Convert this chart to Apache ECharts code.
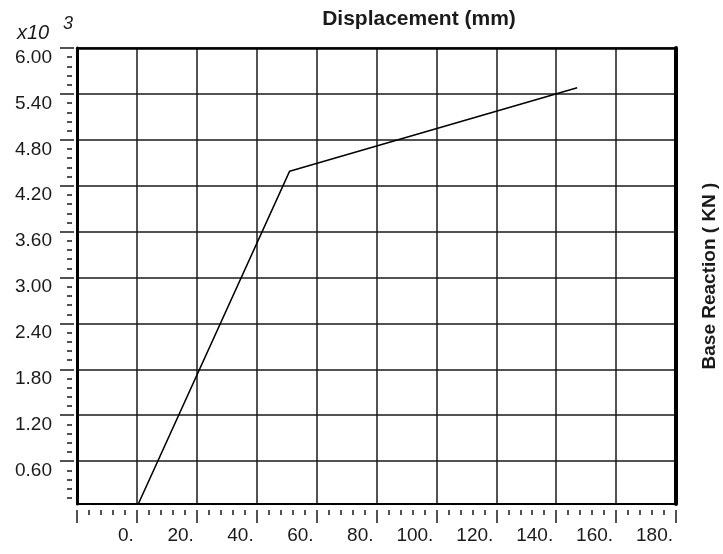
<!DOCTYPE html>
<html>
<head>
<meta charset="utf-8">
<title>Displacement vs Base Reaction</title>
<script src="https://cdn.jsdelivr.net/npm/echarts@6/dist/echarts.min.js"></script>
<style>
  html, body { margin: 0; padding: 0; background: #fff; }
  #chart { width: 723px; height: 554px; }
</style>
</head>
<body>
<div id="chart"></div>
<script>
// pushover curve
const dispMm = [0, 51, 147];          // displacement (mm)
const baseKN = [0, 4390, 5480];       // base reaction (kN)

// y ticks (kN), labelled in x10^3
const yMajor = [600, 1200, 1800, 2400, 3000, 3600, 4200, 4800, 5400, 6000];
const yMinor = [120, 240, 360, 480, 720, 840, 960, 1080, 1320, 1440, 1560, 1680,
  1920, 2040, 2160, 2280, 2520, 2640, 2760, 2880, 3120, 3240, 3360, 3480,
  3720, 3840, 3960, 4080, 4320, 4440, 4560, 4680, 4920, 5040, 5160, 5280,
  5520, 5640, 5760, 5880];
const yMin = 40, yMax = 6000;
const xMin = -20, xMax = 180, xStep = 20;

const ink = '#1a1a1a';
const font = "'Liberation Sans', Arial, sans-serif";

const chart = echarts.init(document.getElementById('chart'));

const points = dispMm.map((d, i) => [d, baseKN[i]]);

const yBase = { type: 'value', gridIndex: 0, min: yMin, max: yMax, position: 'left',
  axisLine: { show: false, onZero: false }, axisTick: { show: false }, axisLabel: { show: false }, splitLine: { show: false } };
const xBase = { type: 'value', gridIndex: 0, min: xMin, max: xMax, interval: xStep, position: 'bottom',
  axisLine: { show: false, onZero: false }, axisTick: { show: false }, axisLabel: { show: false }, splitLine: { show: false } };

chart.setOption({
  animation: false,
  backgroundColor: '#fff',
  title: {
    text: 'Displacement (mm)',
    left: 414, top: 4, textAlign: 'center',
    textStyle: { fontFamily: font, fontWeight: 'bold', fontSize: 21, color: ink }
  },
  graphic: [
    { type: 'text', left: 17, top: 23,
      style: { text: 'x10', fontFamily: font, fontStyle: 'italic', fontSize: 20, fill: ink } },
    { type: 'text', left: 63, top: 15,
      style: { text: '3', fontFamily: font, fontStyle: 'italic', fontSize: 18, fill: ink } }
  ],
  grid: { left: 77, right: 47, top: 48, bottom: 50, show: false, containLabel: false, outerBoundsMode: 'none' },
  xAxis: [
    // frame bottom + vertical grid lines
    Object.assign({}, xBase, {
      axisLine: { show: true, onZero: false, lineStyle: { color: '#000', width: 2 } },
      splitLine: { show: true, lineStyle: { color: ink, width: 1.5 } }
    }),
    // ticks and labels, a bit below the frame
    Object.assign({}, xBase, {
      offset: 6,
      axisTick: { show: true, length: 13, lineStyle: { color: ink, width: 1.5 } },
      minorTick: { show: true, splitNumber: 5, length: 5, lineStyle: { color: ink, width: 1.5 } },
      axisLabel: {
        show: true, margin: 16, align: 'right', padding: [0, 3, 0, 0],
        fontFamily: font, fontSize: 19, color: ink,
        formatter: v => (v === xMin ? '' : v + '.')
      }
    }),
    // frame top
    Object.assign({}, xBase, {
      position: 'top',
      axisLine: { show: true, onZero: false, lineStyle: { color: '#000', width: 2.5 } }
    })
  ],
  yAxis: [
    // frame left + horizontal grid lines
    Object.assign({}, yBase, {
      axisLine: { show: true, onZero: false, lineStyle: { color: '#000', width: 3 } },
      axisTick: { show: false, customValues: yMajor },
      splitLine: { show: true, lineStyle: { color: ink, width: 1.5 } }
    }),
    // major ticks + labels
    Object.assign({}, yBase, {
      offset: 3,
      axisTick: { show: true, customValues: yMajor, length: 14, lineStyle: { color: ink, width: 1.5 } },
      axisLabel: {
        show: true, customValues: yMajor, margin: 22, verticalAlign: 'top',
        fontFamily: font, fontSize: 19, color: ink,
        formatter: v => (v / 1000).toFixed(2)
      }
    }),
    // minor ticks
    Object.assign({}, yBase, {
      offset: 5,
      axisTick: { show: true, customValues: yMinor, length: 5, lineStyle: { color: ink, width: 1.5 } }
    }),
    // frame right + axis title
    Object.assign({}, yBase, {
      position: 'right',
      axisLine: { show: true, onZero: false, lineStyle: { color: '#000', width: 4 } },
      name: 'Base Reaction ( KN )',
      nameLocation: 'middle', nameRotate: 90, nameGap: 24,
      nameTextStyle: { fontFamily: font, fontWeight: 'bold', fontSize: 19, color: ink }
    })
  ],
  series: [{
    type: 'line',
    xAxisIndex: 0, yAxisIndex: 0,
    data: points,
    showSymbol: false,
    lineStyle: { color: '#000', width: 1.5 },
    clip: true
  }]
});
</script>
</body>
</html>
